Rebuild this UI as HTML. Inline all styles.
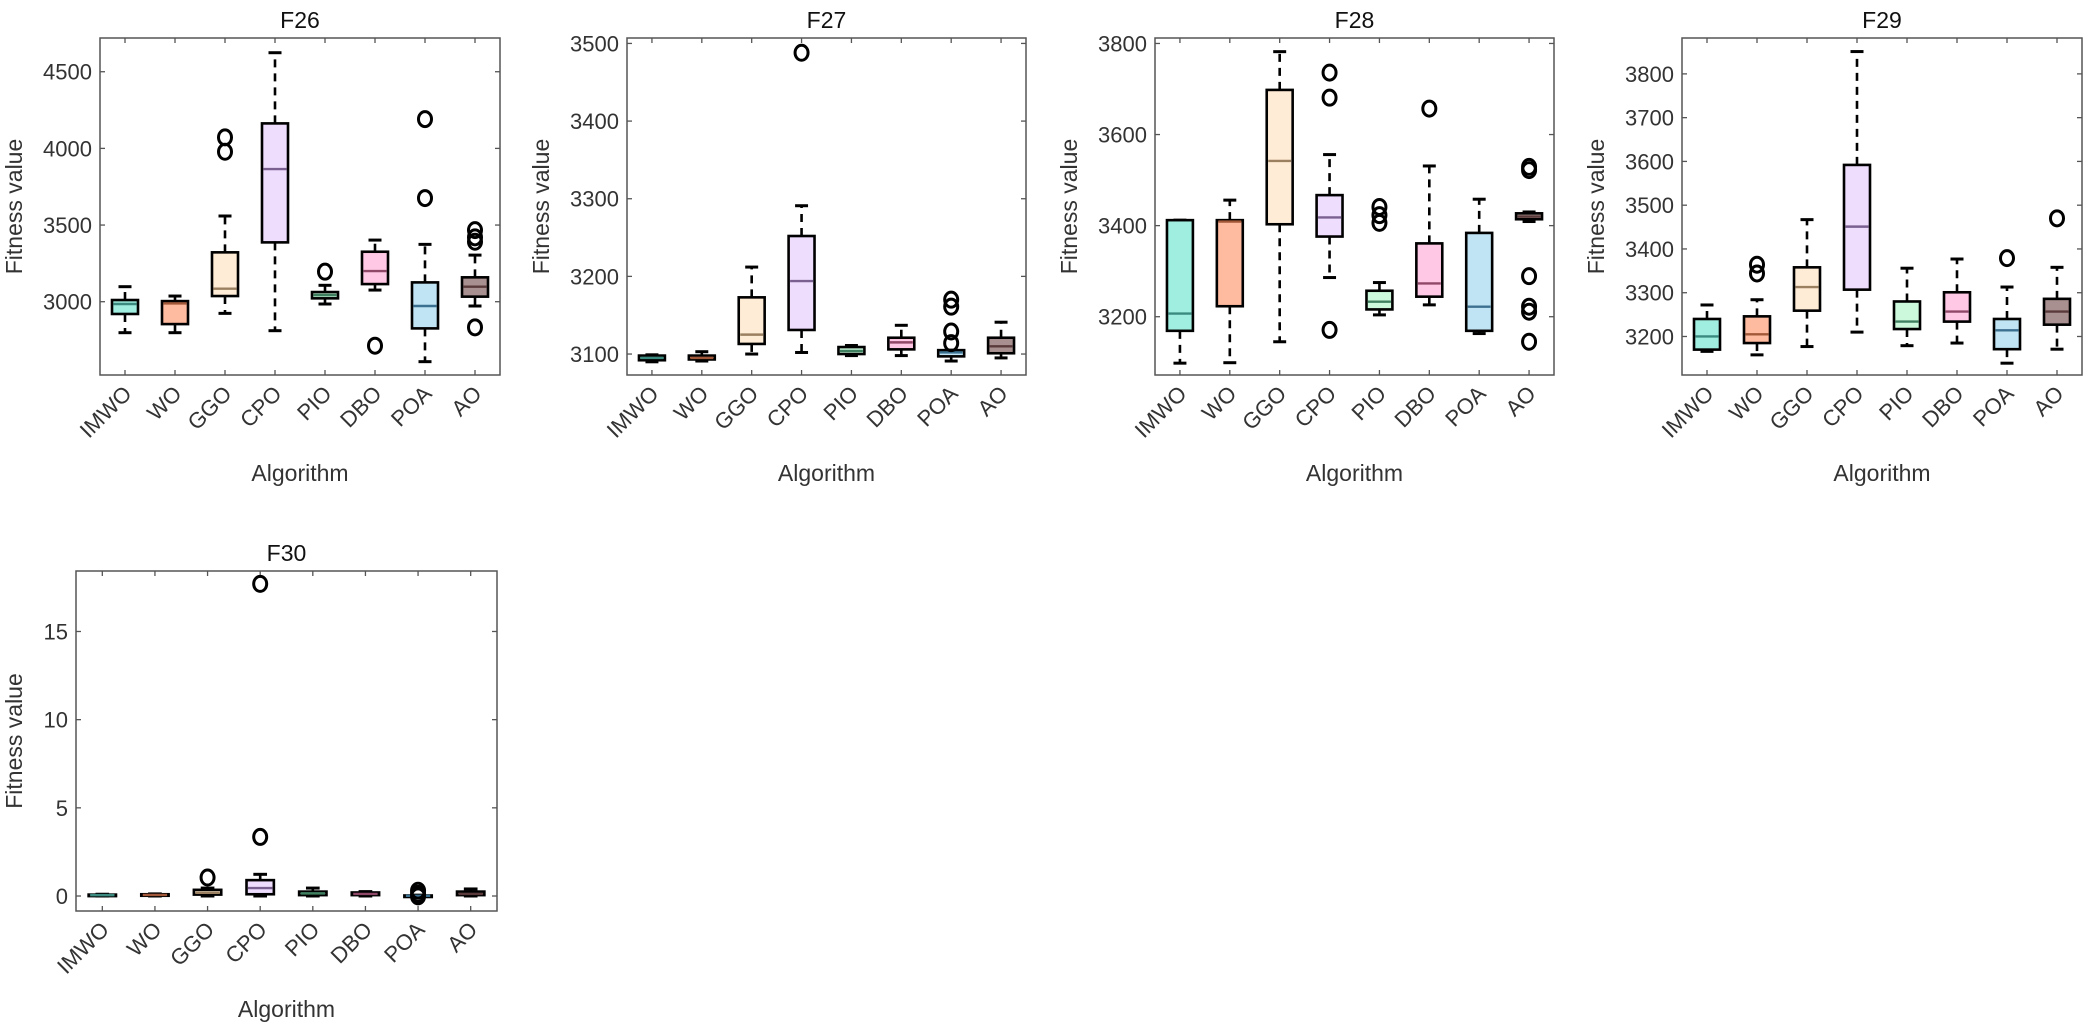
<!DOCTYPE html>
<html><head><meta charset="utf-8">
<style>
html,body{margin:0;padding:0;background:#fff;}
svg{display:block;font-family:"Liberation Sans",Arial,sans-serif;}
</style></head>
<body>
<svg id="chart" width="2090" height="1026" viewBox="0 0 2090 1026" xmlns="http://www.w3.org/2000/svg"></svg>
<script>
const categories = ["IMWO","WO","GGO","CPO","PIO","DBO","POA","AO"];
const fillColors = ["#a0eee0","#ffbba0","#ffecd6","#eeddfd","#ccf8dc","#ffc8e4","#c0e4f4","#a89090"];
const medColors = ["#3a8a80","#a05838","#9a8060","#7a6090","#3f8060","#904868","#3b7090","#5a3a3a"];

// F26
const f26Lo = [2798,2798,2924,2811,2985,3076,2609,2972];
const f26Q1 = [2920,2854,3037,3387,3022,3115,2826,3033];
const f26Med = [2985,2989,3085,3865,3043,3200,2972,3098];
const f26Q3 = [3011,3004,3322,4163,3063,3326,3126,3159];
const f26Hi = [3098,3037,3559,4624,3107,3402,3374,3304];
const f26Out = [[],[],[4072,3978],[],[3196],[2713],[4191,3676],[3467,3420,3391,2833]];
const f26Ticks = [3000,3500,4000,4500];

// F27
const f27Lo = [3090,3091,3100,3102,3098,3098,3091,3095];
const f27Q1 = [3092,3093,3113,3131,3100,3106,3097,3101];
const f27Med = [3095,3095,3125,3194,3104,3115,3102,3110];
const f27Q3 = [3098,3098,3173,3252,3109,3121,3105,3121];
const f27Hi = [3099,3103,3212,3291,3111,3137,3105,3141];
const f27Out = [[],[],[],[3488],[],[],[3170,3161,3129,3114],[]];
const f27Ticks = [3100,3200,3300,3400,3500];

// F28
const f28Lo = [3098,3099,3145,3286,3204,3226,3163,3409];
const f28Q1 = [3169,3223,3403,3376,3216,3244,3169,3414];
const f28Med = [3207,3409,3542,3418,3233,3273,3222,3420];
const f28Q3 = [3412,3412,3698,3467,3257,3361,3384,3427];
const f28Hi = [3412,3456,3782,3556,3275,3531,3458,3430];
const f28Out = [[],[],[],[3736,3681,3171],[3441,3423,3406],[3657],[],[3529,3522,3289,3222,3211,3145]];
const f28Ticks = [3200,3400,3600,3800];

// F29
const f29Lo = [3166,3158,3177,3210,3179,3185,3139,3171];
const f29Q1 = [3170,3185,3259,3307,3217,3234,3171,3227];
const f29Med = [3200,3205,3313,3451,3234,3257,3214,3257];
const f29Q3 = [3240,3246,3358,3592,3280,3301,3240,3286];
const f29Hi = [3272,3284,3467,3851,3356,3377,3313,3358];
const f29Out = [[],[3364,3344],[],[],[],[],[3379],[3470]];
const f29Ticks = [3200,3300,3400,3500,3600,3700,3800];

// F30
const f30Lo = [0.0,0.0,0.0,0.0,0.0,0.0,0.0,0.0];
const f30Q1 = [0.02,0.03,0.08,0.1,0.05,0.05,0.0,0.05];
const f30Med = [0.05,0.06,0.18,0.45,0.15,0.12,0.01,0.12];
const f30Q3 = [0.08,0.1,0.35,0.9,0.25,0.2,0.03,0.25];
const f30Hi = [0.1,0.12,0.45,1.23,0.45,0.25,0.05,0.4];
const f30Out = [[],[],[1.05],[17.7,3.35],[],[],[0.3,0.12,-0.02],[]];
const f30Ticks = [0,5,10,15];

const panels = [
  {name:"f26",title:"F26",x:100,y:38,w:400,h:337,ylx:22,ymin:2522,ymax:4720,lo:f26Lo,q1:f26Q1,med:f26Med,q3:f26Q3,hi:f26Hi,out:f26Out,ticks:f26Ticks},
  {name:"f27",title:"F27",x:627,y:38,w:399,h:337,ylx:549,ymin:3073,ymax:3507,lo:f27Lo,q1:f27Q1,med:f27Med,q3:f27Q3,hi:f27Hi,out:f27Out,ticks:f27Ticks},
  {name:"f28",title:"F28",x:1155,y:38,w:399,h:337,ylx:1077,ymin:3072,ymax:3812,lo:f28Lo,q1:f28Q1,med:f28Med,q3:f28Q3,hi:f28Hi,out:f28Out,ticks:f28Ticks},
  {name:"f29",title:"F29",x:1682,y:38,w:400,h:337,ylx:1604,ymin:3112,ymax:3882,lo:f29Lo,q1:f29Q1,med:f29Med,q3:f29Q3,hi:f29Hi,out:f29Out,ticks:f29Ticks},
  {name:"f30",title:"F30",x:76,y:571,w:421,h:340,ylx:22,ymin:-0.85,ymax:18.43,lo:f30Lo,q1:f30Q1,med:f30Med,q3:f30Q3,hi:f30Hi,out:f30Out,ticks:f30Ticks}
];

const NS = "http://www.w3.org/2000/svg";
const svg = document.getElementById("chart");
function mk(tag, attrs, parent){
  const e = document.createElementNS(NS, tag);
  for (const k in attrs) e.setAttribute(k, attrs[k]);
  (parent||svg).appendChild(e);
  return e;
}

panels.forEach(p => {
  const g = mk("g", {});
  
  
  const n = categories.length;
  const step = p.w / n;
  const xs = i => p.x + step * (i + 0.5);
  const ys = v => p.y + p.h - (v - p.ymin) / (p.ymax - p.ymin) * p.h;
  const bw = step * 0.52;
  const cap = bw * 0.5;

  const frame = mk("rect", {x:p.x, y:p.y, width:p.w, height:p.h, fill:"none", stroke:"#555", "stroke-width":1.5}, g);
  
  

  p.ticks.forEach(t => {
    const y = ys(t);
    mk("line", {x1:p.x, y1:y, x2:p.x+5, y2:y, stroke:"#555", "stroke-width":1.3}, g);
    mk("line", {x1:p.x+p.w, y1:y, x2:p.x+p.w-5, y2:y, stroke:"#555", "stroke-width":1.3}, g);
    const tl = mk("text", {x:p.x-8, y:y+8, "text-anchor":"end", "font-size":22, fill:"#333"}, g);
    tl.textContent = t;
    
    
  });

  categories.forEach((c, i) => {
    const x = xs(i);
    mk("line", {x1:x, y1:p.y+p.h, x2:x, y2:p.y+p.h-5, stroke:"#555", "stroke-width":1.3}, g);
    mk("line", {x1:x, y1:p.y, x2:x, y2:p.y+5, stroke:"#555", "stroke-width":1.3}, g);
    const lx = x + 8, ly = p.y + p.h + 20;
    const tl = mk("text", {x:lx, y:ly, "text-anchor":"end", "font-size":22, fill:"#333", transform:`rotate(-45 ${lx} ${ly})`}, g);
    tl.textContent = c;
    
    
  });

  categories.forEach((c, i) => {
    const x = xs(i);
    const bg = mk("g", {}, g);
    
    
    const yq1 = ys(p.q1[i]), yq3 = ys(p.q3[i]), ylo = ys(p.lo[i]), yhi = ys(p.hi[i]), ymed = ys(p.med[i]);
    if (yhi < yq3 - 1) mk("line", {x1:x, y1:yq3, x2:x, y2:yhi, stroke:"#000", "stroke-width":2.6, "stroke-dasharray":"8,6"}, bg);
    if (ylo > yq1 + 1) mk("line", {x1:x, y1:yq1, x2:x, y2:ylo, stroke:"#000", "stroke-width":2.6, "stroke-dasharray":"8,6"}, bg);
    mk("line", {x1:x-cap/2, y1:yhi, x2:x+cap/2, y2:yhi, stroke:"#000", "stroke-width":3}, bg);
    mk("line", {x1:x-cap/2, y1:ylo, x2:x+cap/2, y2:ylo, stroke:"#000", "stroke-width":3}, bg);
    mk("rect", {x:x-bw/2, y:yq3, width:bw, height:Math.max(yq1-yq3,1.5), fill:fillColors[i], stroke:"#000", "stroke-width":2.6}, bg);
    mk("line", {x1:x-bw/2+1.5, y1:ymed, x2:x+bw/2-1.5, y2:ymed, stroke:medColors[i], "stroke-width":2.4}, bg);
    p.out[i].forEach(v => {
      const o = mk("ellipse", {cx:x, cy:ys(v), rx:6.5, ry:7.5, fill:"none", stroke:"#000", "stroke-width":3}, bg);
      
      
    });
  });

  const t = mk("text", {x:p.x+p.w/2, y:p.y-10, "text-anchor":"middle", "font-size":23, fill:"#111"}, g);
  t.textContent = p.title;
  
  
  const xl = mk("text", {x:p.x+p.w/2, y:p.y+p.h+106, "text-anchor":"middle", "font-size":23, fill:"#333"}, g);
  xl.textContent = "Algorithm";
  
  
  const yx = p.ylx, yy = p.y + p.h/2;
  const yl = mk("text", {x:yx, y:yy, "text-anchor":"middle", "font-size":23, fill:"#333", transform:`rotate(-90 ${yx} ${yy})`}, g);
  yl.textContent = "Fitness value";
  
  
});
</script>
</body></html>
